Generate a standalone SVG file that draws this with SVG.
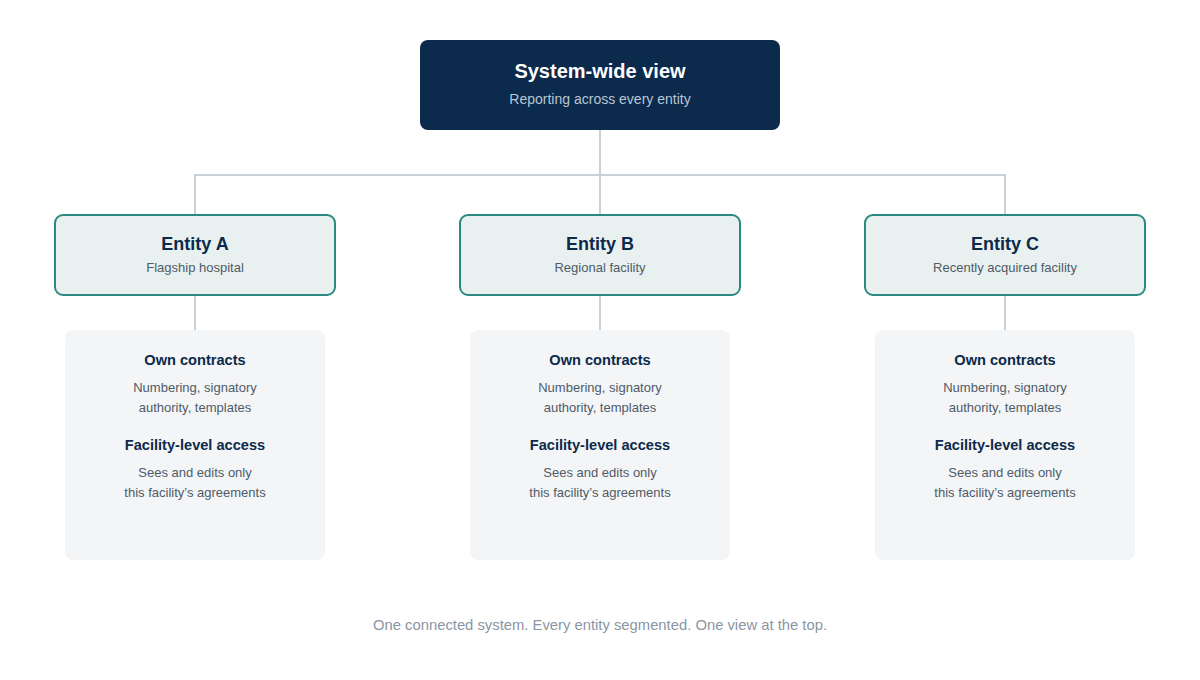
<svg xmlns="http://www.w3.org/2000/svg" width="1200" height="680" viewBox="0 0 1200 680">
<style>
text{font-family:"Liberation Sans",Arial,sans-serif;text-anchor:middle}
.t1{font-size:20px;font-weight:bold;fill:#ffffff}
.s1{font-size:14px;fill:#b8c6d6}
.et{font-size:18px;font-weight:bold;fill:#0d2a4a}
.es{font-size:13px;fill:#4f5b68}
.ch{font-size:14.6px;font-weight:bold;fill:#0d2a4a}
.cb{font-size:13px;fill:#4f5b68}
.ent{fill:#e9f0f0;stroke:#2b8a80;stroke-width:2}
.card{fill:#f3f5f7}
.con{stroke:#c8d0d8;stroke-width:2;fill:none}
.foot{font-size:14.8px;fill:#8a96a3}
</style>
<rect width="1200" height="680" fill="#ffffff"/>
<g id="connectors">
<path class="con" d="M600 130V215M195 215V175H1005V215"/>
<path class="con" d="M195 295V330M600 295V330M1005 295V330"/>
</g>
<g id="top">
<rect x="420" y="40" width="360" height="90" rx="8" fill="#0c2a4b"/>
<text class="t1" x="600" y="78">System-wide view</text>
<text class="s1" x="600" y="104">Reporting across every entity</text>
</g>
<g id="entityA">
<rect class="ent" x="55" y="215" width="280" height="80" rx="8"/>
<text class="et" x="195" y="250">Entity A</text>
<text class="es" x="195" y="272">Flagship hospital</text>
</g>
<g id="entityB">
<rect class="ent" x="460" y="215" width="280" height="80" rx="8"/>
<text class="et" x="600" y="250">Entity B</text>
<text class="es" x="600" y="272">Regional facility</text>
</g>
<g id="entityC">
<rect class="ent" x="865" y="215" width="280" height="80" rx="8"/>
<text class="et" x="1005" y="250">Entity C</text>
<text class="es" x="1005" y="272">Recently acquired facility</text>
</g>
<g id="cardA">
<rect class="card" x="65" y="330" width="260" height="230" rx="8"/>
<text class="ch" x="195" y="365">Own contracts</text>
<text class="cb" x="195" y="392">Numbering, signatory</text>
<text class="cb" x="195" y="412">authority, templates</text>
<text class="ch" x="195" y="450">Facility-level access</text>
<text class="cb" x="195" y="477">Sees and edits only</text>
<text class="cb" x="195" y="497">this facility’s agreements</text>
</g>
<g id="cardB">
<rect class="card" x="470" y="330" width="260" height="230" rx="8"/>
<text class="ch" x="600" y="365">Own contracts</text>
<text class="cb" x="600" y="392">Numbering, signatory</text>
<text class="cb" x="600" y="412">authority, templates</text>
<text class="ch" x="600" y="450">Facility-level access</text>
<text class="cb" x="600" y="477">Sees and edits only</text>
<text class="cb" x="600" y="497">this facility’s agreements</text>
</g>
<g id="cardC">
<rect class="card" x="875" y="330" width="260" height="230" rx="8"/>
<text class="ch" x="1005" y="365">Own contracts</text>
<text class="cb" x="1005" y="392">Numbering, signatory</text>
<text class="cb" x="1005" y="412">authority, templates</text>
<text class="ch" x="1005" y="450">Facility-level access</text>
<text class="cb" x="1005" y="477">Sees and edits only</text>
<text class="cb" x="1005" y="497">this facility’s agreements</text>
</g>
<text class="foot" x="600" y="630">One connected system. Every entity segmented. One view at the top.</text>
</svg>
